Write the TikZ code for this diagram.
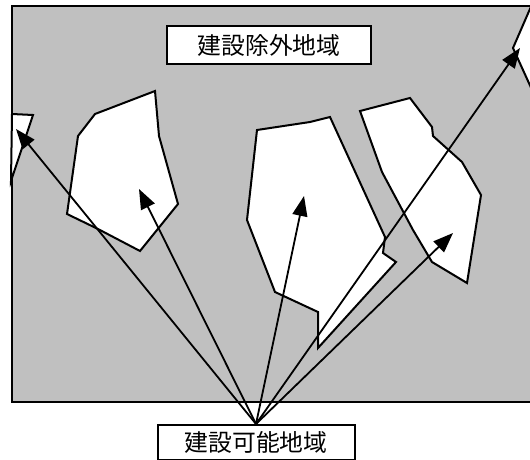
\documentclass[tikz,border=0pt]{standalone}
\usepackage{fontspec}
\newfontfamily\cjk{Noto Sans CJK JP}
\usetikzlibrary{arrows.meta}
\definecolor{zone}{HTML}{C0C0C0}
\tikzset{
  x=1pt,y=-1pt,
  site/.style={draw=black,fill=white,line width=2pt,line join=miter},
  label box/.style={draw=black,fill=white,line width=2pt,inner sep=0pt,font=\cjk\fontsize{23.8}{26}\selectfont,anchor=north west},
  pointer/.style={draw=black,line width=1.8pt,-{Triangle[length=20pt,width=15pt]}}
}
\begin{document}
\begin{tikzpicture}
\useasboundingbox (0,0) rectangle (530,460);
\fill[white] (0,0) rectangle (530,460);
\draw[fill=zone,line width=2pt] (11.5,6) rectangle (533,402);
% building sites
\draw[site] (12,114) -- (33,115) -- (11,181) -- cycle;
\draw[site] (155,91) -- (95,114) -- (78,136) -- (67,214) -- (98,229) -- (140,251) -- (178,204) -- (159,136) -- cycle;
\draw[site] (257,130) -- (310,122) -- (330,117) -- (385,237) -- (383,253) -- (396,262) -- (318,348) -- (318,312) -- (275,292) -- (247,220) -- cycle;
\draw[site] (360,111) -- (410,98) -- (432,127) -- (433,136) -- (462,162) -- (481,195) -- (467,283) -- (432,262) -- (413,230) -- (382,172) -- cycle;
\draw[site] (533,2) -- (513,48) -- (533,92) -- cycle;
% labels
\node[label box,minimum width=204pt,minimum height=38pt] (excl) at (166,25) {建設除外地域};
\node[label box,minimum width=197pt,minimum height=35pt] (poss) at (156.5,424) {建設可能地域};
% pointer targets
\coordinate (t1) at (16,129);
\coordinate (t2) at (139,189);
\coordinate (t3) at (304,196);
\coordinate (t4) at (453,233);
\coordinate (t5) at (520,48);
\foreach \t in {t1,t2,t3,t4,t5}
  \draw[pointer] (poss.north) -- (\t);
\end{tikzpicture}
\end{document}
